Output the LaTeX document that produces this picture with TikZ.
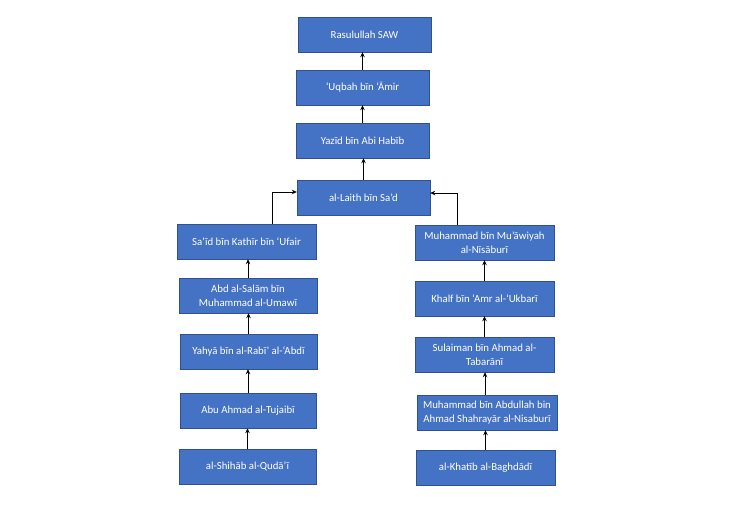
\documentclass[tikz,border=0pt]{standalone}
\usepackage{fontspec}
\setmainfont{Carlito}
\usepackage{tikz}
\usetikzlibrary{positioning,calc,arrows.meta}

\definecolor{boxblue}{HTML}{4472C4}
\definecolor{boxline}{HTML}{2F528F}

\begin{document}
\begin{tikzpicture}[x=1pt, y=-1pt, ->, >={Stealth[length=5pt,width=4.5pt]}, box/.style = {rectangle, draw=boxline, fill=boxblue, text=white, minimum height=35pt, inner sep=1pt, align=center, font=\fontsize{10.8}{14}\selectfont}, every edge/.append style={line width=0.9pt, black}]

\useasboundingbox (0,0) rectangle (731,510);

% chain in the middle
\node[box, minimum width=133pt] (rasul) at (364.5,34.5) {Rasulullah SAW};
\node[box, minimum width=133pt] (uqbah) at (362.5,87.5) {‘Uqbah bīn ‘Āmir};
\node[box, minimum width=133pt] (yazid) at (362.5,140.5) {Yazīd bīn Abi Habīb};
\node[box, minimum width=133pt] (laith) at (363.5,197.5) {al-Laith bīn Sa’d};

% left chain
\node[box, minimum width=139pt] (said) at (246.5,241.5) {Sa’īd bīn Kathīr bīn ‘Ufair};
\node[box, minimum width=138pt] (salam) at (248,295.5) {Abd al-Salām bīn\\Muhammad al-Umawī};
\node[box, minimum width=137pt] (yahya) at (248.5,351.5) {Yahyā bīn al-Rabī’ al-‘Abdī};
\node[box, minimum width=136pt] (tujaibi) at (248,410.5) {Abu Ahmad al-Tujaibī};
\node[box, minimum width=137pt] (qudai) at (247.5,466.5) {al-Shihāb al-Qudā’ī};

% right chain
\node[box, minimum width=139pt] (muawiyah) at (484.5,242.5) {Muhammad bīn Mu’āwiyah\\al-Nīsāburī};
\node[box, minimum width=139pt] (khalf) at (484.5,298.5) {Khalf bīn ‘Amr al-‘Ukbarī};
\node[box, minimum width=139pt] (sulaiman) at (484.5,354.5) {Sulaiman bīn Ahmad al-\\Tabarānī};
\node[box, minimum width=140pt] (shahrayar) at (487,412.5) {Muhammad bīn Abdullah bin\\Ahmad Shahrayār al-Nisaburī};
\node[box, minimum width=139pt] (khatib) at (485.5,467.5) {al-Khatīb al-Baghdādī};

\path
 (uqbah.north) edge (uqbah.north |- rasul.south)
 (yazid.north) edge (yazid.north |- uqbah.south)
 (laith.north) edge (laith.north |- yazid.south)
 (salam.north) edge (salam.north |- said.south)
 (yahya.north) edge (yahya.north |- salam.south)
 (tujaibi.north) edge (tujaibi.north |- yahya.south)
 (qudai.north) edge (qudai.north |- tujaibi.south)
 (khalf.north) edge (khalf.north |- muawiyah.south)
 (sulaiman.north) edge (sulaiman.north |- khalf.south)
 ([xshift=-2pt]shahrayar.north) edge ([xshift=-2pt]shahrayar.north |- sulaiman.south)
 (khatib.north) edge (khatib.north |- shahrayar.south);

\draw[line width=0.9pt] ([xshift=25.5pt]said.north) |- ([yshift=5.5pt]laith.west);
\draw[line width=0.9pt] ([xshift=-27.5pt]muawiyah.north) |- ([yshift=4.5pt]laith.east);
\end{tikzpicture}
\end{document}
